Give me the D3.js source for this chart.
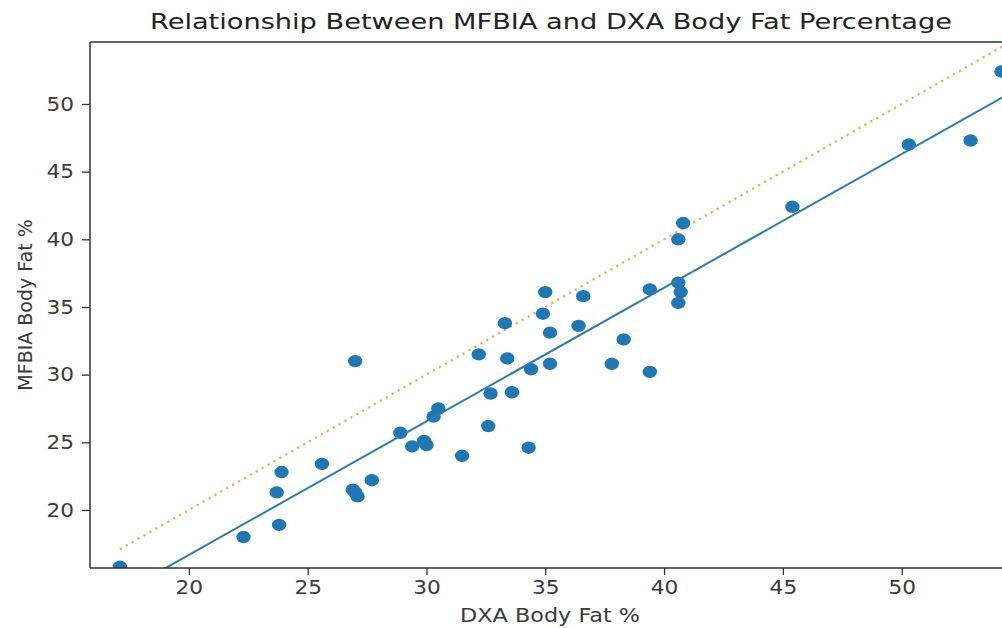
<!DOCTYPE html>
<html><head><meta charset="utf-8">
<script src="https://cdn.jsdelivr.net/npm/d3@7"></script>
<style>body{margin:0;background:#fff}svg{display:block}</style>
</head><body>
<svg id="c" width="1002" height="628"></svg>
<script>
const dxa = [17.1,22.3,23.8,23.7,23.9,25.6,26.9,27.0,27.1,27.7,27.0,28.9,29.4,29.9,30.0,30.3,30.5,31.5,32.2,32.6,32.7,33.3,33.4,33.6,34.3,34.4,34.9,35.0,35.2,35.2,36.4,36.6,37.8,38.3,39.4,39.4,40.6,40.8,40.6,40.7,40.6,45.4,50.3,52.9,54.2];
const mfbia = [15.8,18.0,18.9,21.3,22.8,23.4,21.5,21.3,21.0,22.2,31.0,25.7,24.7,25.1,24.8,26.9,27.5,24.0,31.5,26.2,28.6,33.8,31.2,28.7,24.6,30.4,34.5,36.1,33.1,30.8,33.6,35.8,30.8,32.6,36.3,30.2,40.0,41.2,36.8,36.1,35.3,42.4,47.0,47.3,52.4];
const xTicks = [20,25,30,35,40,45,50];
const yTicks = [20,25,30,35,40,45,50];
const xDomain = [15.84, 54.6];
const yDomain = [15.71, 54.58];
const fitX = [17.1, 54.6];
const fitY = [13.81, 50.84];
const idX = [17.1, 54.6];
const idY = [17.1, 54.6];
const title = "Relationship Between MFBIA and DXA Body Fat Percentage";
const xLabel = "DXA Body Fat %";
const yLabel = "MFBIA Body Fat %";

const L = 90, R = 1011, T = 42, B = 568;
const svg = d3.select("#c");
const x = d3.scaleLinear().domain(xDomain).range([L, R]);
const y = d3.scaleLinear().domain(yDomain).range([B, T]);
const font = "'DejaVu Sans', sans-serif";

svg.append("defs").append("clipPath").attr("id","clip")
  .append("rect").attr("x",L).attr("y",T).attr("width",R-L).attr("height",B-T);

const g = svg.append("g").attr("clip-path","url(#clip)");
const line = d3.line().x(d=>x(d[0])).y(d=>y(d[1]));
g.append("path").datum(idX.map((v,i)=>[v,idY[i]])).attr("d",line)
  .attr("fill","none").attr("stroke","#ff7f0e").attr("stroke-width",2.2)
  .attr("stroke-dasharray","2.2,4.6").attr("opacity",0.75);
g.selectAll("ellipse").data(dxa.map((v,i)=>[v,mfbia[i]])).enter().append("ellipse")
  .attr("cx",d=>x(d[0])).attr("cy",d=>y(d[1])).attr("rx",7.2).attr("ry",6.2)
  .attr("fill","#1f77b4");
g.append("path").datum(fitX.map((v,i)=>[v,fitY[i]])).attr("d",line)
  .attr("fill","none").attr("stroke","#2e7bb0").attr("stroke-width",2);

const xa = svg.append("g").attr("transform",`translate(0,${B})`)
  .call(d3.axisBottom(x).tickValues(xTicks).tickSize(7).tickPadding(6).tickSizeOuter(0));
const ya = svg.append("g").attr("transform",`translate(${L},0)`)
  .call(d3.axisLeft(y).tickValues(yTicks).tickSize(8).tickPadding(8).tickSizeOuter(0));
[xa,ya].forEach(a=>{
  a.select(".domain").remove();
  a.selectAll("line").attr("stroke","#333").attr("stroke-width",1.3);
  a.selectAll("text").attr("font-family",font).attr("font-size",19).attr("fill","#3a3a3a")
    .each(function(){ const w=this.getComputedTextLength(); d3.select(this).attr("textLength",w*1.14).attr("lengthAdjust","spacingAndGlyphs"); });
});
// spines
svg.append("path").attr("d",`M${L},${B}H${R}M${L},${B}V${T}M${L},${T}H${R}M${R},${T}V${B}`)
  .attr("fill","none").attr("stroke","#333").attr("stroke-width",1.5);

svg.append("text").attr("x",551).attr("y",29).attr("text-anchor","middle")
  .attr("font-family",font).attr("font-size",21).attr("fill","#222")
  .attr("textLength",802).attr("lengthAdjust","spacingAndGlyphs").text(title);
svg.append("text").attr("x",550).attr("y",622).attr("text-anchor","middle")
  .attr("font-family",font).attr("font-size",19).attr("fill","#3a3a3a")
  .attr("textLength",180).attr("lengthAdjust","spacingAndGlyphs").text(xLabel);
svg.append("text").attr("transform","translate(32,305) rotate(-90)").attr("text-anchor","middle")
  .attr("font-family",font).attr("font-size",19).attr("fill","#3a3a3a").text(yLabel);
</script>
</body></html>
